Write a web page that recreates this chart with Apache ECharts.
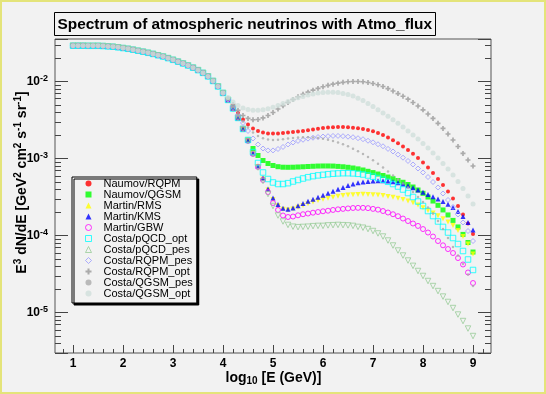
<!DOCTYPE html>
<html><head><meta charset="utf-8">
<script src="https://cdn.jsdelivr.net/npm/echarts@6/dist/echarts.min.js"></script>
<style>html,body{margin:0;padding:0;background:#f2f2f2}#c{width:546px;height:394px}</style>
</head><body><div id="c"></div>
<script>
// log10 of neutrino energy (GeV)
const logE = [1.0,1.1,1.2,1.3,1.4,1.5,1.6,1.7,1.8,1.9,
  2.0,2.1,2.2,2.3,2.4,2.5,2.6,2.7,2.8,2.9,
  3.0,3.1,3.2,3.3,3.4,3.5,3.6,3.7,3.8,3.9,
  4.0,4.1,4.2,4.3,4.4,4.5,4.6,4.7,4.8,4.9,
  5.0,5.1,5.2,5.3,5.4,5.5,5.6,5.7,5.8,5.9,
  6.0,6.1,6.2,6.3,6.4,6.5,6.6,6.7,6.8,6.9,
  7.0,7.1,7.2,7.3,7.4,7.5,7.6,7.7,7.8,7.9,
  8.0,8.1,8.2,8.3,8.4,8.5,8.6,8.7,8.8,8.9,9.0];

// shared low-energy (conventional) part, logE 1.0 .. 4.0
const lowE = [2.93e-2,2.93e-2,2.93e-2,2.92e-2,2.92e-2,2.92e-2,2.90e-2,2.87e-2,2.84e-2,2.79e-2,
  2.73e-2,2.67e-2,2.60e-2,2.52e-2,2.45e-2,2.37e-2,2.29e-2,2.20e-2,2.12e-2,2.02e-2,
  1.92e-2,1.82e-2,1.72e-2,1.62e-2,1.52e-2,1.41e-2,1.30e-2,1.17e-2,1.02e-2,8.66e-3,
  7.13e-3];

// logE 4.1 .. 9.0 per model
const naumovRQPM = lowE.concat([5.96e-3,4.83e-3,3.92e-3,3.23e-3,2.78e-3,2.47e-3,2.29e-3,2.19e-3,2.13e-3,2.12e-3,
  2.13e-3,2.16e-3,2.19e-3,2.22e-3,2.26e-3,2.29e-3,2.34e-3,2.39e-3,2.45e-3,2.50e-3,
  2.54e-3,2.56e-3,2.58e-3,2.58e-3,2.56e-3,2.53e-3,2.49e-3,2.43e-3,2.36e-3,2.27e-3,
  2.16e-3,2.03e-3,1.88e-3,1.73e-3,1.59e-3,1.44e-3,1.30e-3,1.157e-3,1.02e-3,8.93e-4,
  7.68e-4,6.52e-4,5.45e-4,4.56e-4,3.75e-4,3.04e-4,2.43e-4,1.885e-4,1.44e-4,1.05e-4]);
const naumovQGSM = lowE.concat([5.79e-3,4.48e-3,3.38e-3,2.43e-3,1.75e-3,1.355e-3,1.10e-3,9.48e-4,8.66e-4,8.16e-4,
  7.87e-4,7.75e-4,7.73e-4,7.75e-4,7.80e-4,7.85e-4,7.92e-4,7.97e-4,8.02e-4,8.04e-4,
  8.04e-4,8.02e-4,7.94e-4,7.85e-4,7.73e-4,7.57e-4,7.37e-4,7.13e-4,6.86e-4,6.60e-4,
  6.32e-4,6.05e-4,5.78e-4,5.50e-4,5.21e-4,4.94e-4,4.62e-4,4.29e-4,3.92e-4,3.55e-4,
  3.18e-4,2.82e-4,2.48e-4,2.16e-4,1.86e-4,1.58e-4,1.30e-4,1.04e-4,8.16e-5,6.14e-5]);
const martinRMS = lowE.concat([5.79e-3,4.48e-3,3.38e-3,2.43e-3,1.70e-3,1.167e-3,7.92e-4,5.45e-4,3.92e-4,2.95e-4,
  2.45e-4,2.20e-4,2.16e-4,2.23e-4,2.34e-4,2.47e-4,2.60e-4,2.74e-4,2.87e-4,2.98e-4,
  3.07e-4,3.16e-4,3.25e-4,3.32e-4,3.38e-4,3.41e-4,3.44e-4,3.45e-4,3.44e-4,3.41e-4,
  3.38e-4,3.32e-4,3.24e-4,3.15e-4,3.06e-4,2.95e-4,2.82e-4,2.68e-4,2.51e-4,2.30e-4,
  2.12e-4,1.97e-4,1.81e-4,1.66e-4,1.51e-4,1.36e-4,1.17e-4,9.76e-5,7.80e-5,5.78e-5]);
const martinKMS = lowE.concat([5.79e-3,4.48e-3,3.38e-3,2.43e-3,1.72e-3,1.185e-3,8.04e-4,5.61e-4,4.04e-4,3.09e-4,
  2.54e-4,2.27e-4,2.20e-4,2.29e-4,2.45e-4,2.62e-4,2.80e-4,2.98e-4,3.16e-4,3.35e-4,
  3.55e-4,3.77e-4,4.01e-4,4.24e-4,4.47e-4,4.69e-4,4.86e-4,4.98e-4,5.07e-4,5.13e-4,
  5.18e-4,5.18e-4,5.13e-4,5.03e-4,4.88e-4,4.69e-4,4.46e-4,4.20e-4,3.92e-4,3.66e-4,
  3.43e-4,3.21e-4,3.00e-4,2.78e-4,2.56e-4,2.32e-4,2.06e-4,1.78e-4,1.485e-4,1.19e-4]);
const martinGBW = lowE.concat([5.79e-3,4.48e-3,3.38e-3,2.43e-3,1.70e-3,1.15e-3,7.80e-4,5.29e-4,3.69e-4,2.66e-4,
  2.16e-4,1.83e-4,1.75e-4,1.775e-4,1.84e-4,1.90e-4,1.94e-4,1.99e-4,2.03e-4,2.075e-4,
  2.11e-4,2.16e-4,2.20e-4,2.23e-4,2.26e-4,2.29e-4,2.30e-4,2.30e-4,2.28e-4,2.23e-4,
  2.18e-4,2.09e-4,2.00e-4,1.90e-4,1.79e-4,1.67e-4,1.55e-4,1.44e-4,1.34e-4,1.22e-4,
  1.10e-4,9.76e-5,8.53e-5,7.50e-5,6.71e-5,5.96e-5,5.13e-5,4.23e-5,3.33e-5,2.43e-5]);
const costaPQCDopt = lowE.concat([5.79e-3,4.48e-3,3.38e-3,2.43e-3,1.75e-3,1.22e-3,8.79e-4,6.62e-4,5.45e-4,4.91e-4,
  4.69e-4,4.69e-4,4.81e-4,5.06e-4,5.29e-4,5.53e-4,5.75e-4,5.93e-4,6.07e-4,6.17e-4,
  6.29e-4,6.38e-4,6.44e-4,6.48e-4,6.48e-4,6.44e-4,6.36e-4,6.23e-4,6.05e-4,5.84e-4,
  5.61e-4,5.32e-4,5.01e-4,4.69e-4,4.35e-4,3.98e-4,3.58e-4,3.18e-4,2.78e-4,2.43e-4,
  2.09e-4,1.80e-4,1.53e-4,1.30e-4,1.10e-4,9.33e-5,7.80e-5,6.33e-5,4.91e-5,3.59e-5]);
const costaPQCDpes = lowE.concat([5.79e-3,4.48e-3,3.38e-3,2.43e-3,1.70e-3,1.15e-3,7.68e-4,5.13e-4,3.48e-4,2.43e-4,
  1.83e-4,1.53e-4,1.38e-4,1.31e-4,1.29e-4,1.30e-4,1.31e-4,1.33e-4,1.34e-4,1.34e-4,
  1.36e-4,1.37e-4,1.38e-4,1.37e-4,1.36e-4,1.34e-4,1.30e-4,1.27e-4,1.22e-4,1.15e-4,
  1.07e-4,9.76e-5,8.66e-5,7.46e-5,6.42e-5,5.53e-5,4.76e-5,4.06e-5,3.48e-5,3.00e-5,
  2.58e-5,2.22e-5,1.91e-5,1.62e-5,1.38e-5,1.15e-5,9.47e-6,7.80e-6,6.23e-6,4.98e-6]);
const costaRQPMpes = lowE.concat([5.87e-3,4.69e-3,3.70e-3,2.91e-3,2.29e-3,1.83e-3,1.53e-3,1.355e-3,1.28e-3,1.28e-3,
  1.336e-3,1.42e-3,1.53e-3,1.62e-3,1.70e-3,1.76e-3,1.82e-3,1.87e-3,1.91e-3,1.94e-3,
  1.96e-3,1.975e-3,1.975e-3,1.96e-3,1.93e-3,1.90e-3,1.845e-3,1.79e-3,1.71e-3,1.63e-3,
  1.54e-3,1.45e-3,1.34e-3,1.24e-3,1.13e-3,1.03e-3,9.34e-4,8.41e-4,7.45e-4,6.62e-4,
  5.78e-4,4.98e-4,4.23e-4,3.53e-4,2.91e-4,2.36e-4,1.885e-4,1.485e-4,1.15e-4,8.53e-5]);
const costaRQPMopt = lowE.concat([6.05e-3,5.06e-3,4.23e-3,3.64e-3,3.33e-3,3.20e-3,3.23e-3,3.38e-3,3.64e-3,3.98e-3,
  4.42e-3,4.875e-3,5.37e-3,5.87e-3,6.37e-3,6.86e-3,7.30e-3,7.75e-3,8.18e-3,8.59e-3,
  8.95e-3,9.28e-3,9.56e-3,9.80e-3,9.97e-3,1.006e-2,1.006e-2,9.97e-3,9.76e-3,9.47e-3,
  9.11e-3,8.66e-3,8.14e-3,7.57e-3,7.00e-3,6.46e-3,5.93e-3,5.37e-3,4.83e-3,4.31e-3,
  3.80e-3,3.33e-3,2.88e-3,2.47e-3,2.09e-3,1.75e-3,1.44e-3,1.17e-3,9.62e-4,8.04e-4]);
const costaQGSMpes = lowE.concat([5.87e-3,4.69e-3,3.75e-3,3.04e-3,2.54e-3,2.19e-3,1.97e-3,1.84e-3,1.77e-3,1.75e-3,
  1.76e-3,1.79e-3,1.83e-3,1.86e-3,1.88e-3,1.90e-3,1.90e-3,1.88e-3,1.86e-3,1.81e-3,
  1.76e-3,1.70e-3,1.62e-3,1.54e-3,1.45e-3,1.35e-3,1.25e-3,1.15e-3,1.05e-3,9.53e-4,
  8.58e-4,7.68e-4,6.82e-4,6.05e-4,5.37e-4,4.76e-4,4.23e-4,3.69e-4,3.18e-4,2.74e-4,
  2.32e-4,1.94e-4,1.55e-4,1.22e-4,9.33e-5,7.13e-5,5.53e-5,4.29e-5,3.13e-5,2.22e-5]);
const costaQGSMopt = lowE.concat([6.24e-3,5.45e-3,4.91e-3,4.55e-3,4.35e-3,4.26e-3,4.25e-3,4.31e-3,4.44e-3,4.65e-3,
  4.91e-3,5.21e-3,5.53e-3,5.85e-3,6.16e-3,6.44e-3,6.70e-3,6.92e-3,7.11e-3,7.24e-3,
  7.30e-3,7.30e-3,7.22e-3,7.04e-3,6.79e-3,6.49e-3,6.11e-3,5.68e-3,5.22e-3,4.76e-3,
  4.33e-3,3.92e-3,3.55e-3,3.21e-3,2.88e-3,2.58e-3,2.29e-3,2.03e-3,1.80e-3,1.575e-3,
  1.38e-3,1.185e-3,1.02e-3,8.66e-4,7.34e-4,6.14e-4,5.06e-4,4.10e-4,3.28e-4,2.58e-4]);

const seriesNames = ['Naumov/RQPM','Naumov/QGSM','Martin/RMS','Martin/KMS','Martin/GBW',
  'Costa/pQCD_opt','Costa/pQCD_pes','Costa/RQPM_pes','Costa/RQPM_opt','Costa/QGSM_pes','Costa/QGSM_opt'];
const seriesValues = [naumovRQPM,naumovQGSM,martinRMS,martinKMS,martinGBW,
  costaPQCDopt,costaPQCDpes,costaRQPMpes,costaRQPMopt,costaQGSMpes,costaQGSMopt];

const xTickLabels = [1,2,3,4,5,6,7,8,9];
const yDecadeExps = [-5,-4,-3,-2];

// ---- layout / style ----
const FONT = '"Liberation Sans", Arial, Helvetica, sans-serif';
const X_MIN = 0.64, X_MAX = 9.36;
const Y_MIN = 3.0e-6, Y_MAX = 3.58e-2;
const BG = '#f2f2f2';
const crossPath = 'path://M3,0H6V3H9V6H6V9H3V6H0V3H3Z';
const markerStyles = [
  {symbol:'circle', size:4, fill:'#ff0000'},
  {symbol:'rect', size:5, fill:'#00ff00'},
  {symbol:'triangle', rotate:180, size:5, fill:'#ffff00'},
  {symbol:'triangle', size:5, fill:'#0000ff'},
  {symbol:'circle', size:5, stroke:'#ff00ff'},
  {symbol:'rect', size:5.5, stroke:'#00ffff'},
  {symbol:'triangle', rotate:180, size:5.5, stroke:'#99cc99'},
  {symbol:'diamond', size:5, stroke:'#9999ff'},
  {symbol:crossPath, size:5, fill:'#999999'},
  {symbol:'circle', size:2.5, fill:'#aaaaaa'},
  {symbol:'circle', size:5, fill:'#cfdedb'}
];

const xMinorTicks = [];
for (let k = 4; k <= 46; k++) { const v = Math.round(k*2)/10; if (k % 5 !== 0) xMinorTicks.push(v); }
const yMinorLog = [];
for (let n = -6; n <= -2; n++) for (let m = 2; m <= 9; m++) {
  const l = Math.log10(m) + n;
  if (l > Math.log10(Y_MIN) && l < Math.log10(Y_MAX)) yMinorLog.push(l);
}

const series = seriesValues.map((vals, i) => {
  const st = markerStyles[i];
  const itemStyle = st.stroke
    ? {color:'rgba(0,0,0,0)', borderColor: st.stroke, borderWidth: 1}
    : {color: st.fill, borderWidth: 0};
  return {
    type:'scatter', name: seriesNames[i], xAxisIndex:0, yAxisIndex:0,
    data: vals.map((v, j) => [logE[j], v]),
    symbol: st.symbol, symbolSize: st.size, symbolRotate: st.rotate || 0,
    itemStyle, silent:true, animation:false
  };
});

const legendData = seriesNames.map((n, i) => {
  const st = markerStyles[i];
  return st.stroke
    ? {name:n, itemStyle:{color:'rgba(0,0,0,0)', borderColor:st.stroke, borderWidth:1}}
    : {name:n, itemStyle:{color:st.fill, borderWidth:0}};
});

const tickColor = '#444';
const chart = echarts.init(document.getElementById('c'), null, {renderer:'canvas'});
chart.setOption({
  backgroundColor: BG,
  animation: false,
  grid: {left:55, top:39, right:55, bottom:41, show:true, borderColor:'#555', borderWidth:1, backgroundColor:BG},
  xAxis: [
    {type:'value', min:X_MIN, max:X_MAX, position:'bottom',
     axisLine:{show:false, onZero:false},
     axisTick:{show:true, inside:true, length:8, customValues:xTickLabels, lineStyle:{color:tickColor}},
     axisLabel:{show:true, customValues:xTickLabels, margin:5, color:'#000', fontFamily:FONT, fontWeight:'bold', fontSize:12},
     splitLine:{show:false}},
    {type:'value', min:X_MIN, max:X_MAX, position:'bottom',
     axisLine:{show:false, onZero:false},
     axisTick:{show:true, inside:true, length:4, customValues:xMinorTicks, lineStyle:{color:tickColor}},
     axisLabel:{show:false}, splitLine:{show:false}}
  ],
  yAxis: [
    {type:'log', logBase:10, min:Y_MIN, max:Y_MAX, position:'left',
     axisLine:{show:false},
     axisTick:{show:true, inside:true, length:13, lineStyle:{color:tickColor}},
     axisLabel:{show:true, margin:7,
       formatter: v => { const e = Math.log10(v), r = Math.round(e);
         if (Math.abs(e - r) > 1e-6 || yDecadeExps.indexOf(r) < 0) return '';
         return '{b|10}{s|' + r + '}'; },
       rich:{b:{fontSize:12, fontWeight:'bold', color:'#000', fontFamily:FONT},
             s:{fontSize:9, fontWeight:'bold', color:'#000', fontFamily:FONT, padding:[0,0,7,0]}}},
     splitLine:{show:false}},
    {type:'value', min:Math.log10(Y_MIN), max:Math.log10(Y_MAX), position:'left',
     axisLine:{show:false},
     axisTick:{show:true, inside:true, length:6, customValues:yMinorLog, lineStyle:{color:tickColor}},
     axisLabel:{show:false}, splitLine:{show:false}},
    {type:'log', logBase:10, min:Y_MIN, max:Y_MAX, position:'right',
     axisLine:{show:false},
     axisTick:{show:true, inside:true, length:13, lineStyle:{color:tickColor}},
     axisLabel:{show:false}, splitLine:{show:false}},
    {type:'value', min:Math.log10(Y_MIN), max:Math.log10(Y_MAX), position:'right',
     axisLine:{show:false},
     axisTick:{show:true, inside:true, length:6, customValues:yMinorLog, lineStyle:{color:tickColor}},
     axisLabel:{show:false}, splitLine:{show:false}}
  ],
  legend: {
    orient:'vertical', left:72, top:177, itemWidth:6, itemHeight:6, itemGap:0,
    padding:[1,4,4,13], backgroundColor:BG, borderColor:'#000', borderWidth:1,
    shadowColor:'#000', shadowOffsetX:2, shadowOffsetY:2, shadowBlur:0.01,
    selectedMode:false,
    textStyle:{fontFamily:FONT, fontSize:11, color:'#000', lineHeight:10.67, padding:[0,0,0,7]},
    data: legendData
  },
  series: series,
  graphic: [
    {type:'rect', shape:{x:1, y:1, width:544, height:392}, style:{fill:'none', stroke:'#e4e47a', lineWidth:2}, silent:true},
    {type:'rect', shape:{x:54.5, y:12.5, width:381, height:23}, style:{fill:BG, stroke:'#000', lineWidth:1}, silent:true},
    {type:'text', x:57.5, y:24.5, silent:true,
     style:{text:'Spectrum of atmospheric neutrinos with Atmo_flux', fill:'#000',
            fontFamily:FONT, fontWeight:'bold', fontSize:15.4, align:'left', verticalAlign:'middle'}},
    {type:'text', x:22.5, y:182.5, rotation:Math.PI/2, silent:true,
     style:{text:'{m|E}{s|3}{m| dN/dE [GeV}{s|2}{m| cm}{s|2}{m| s}{s|-1}{m| sr}{s|-1}{m|]}',
            align:'center', verticalAlign:'middle', fill:'#000',
            rich:{m:{fontSize:14, fontWeight:'bold', fontFamily:FONT, fill:'#000'},
                  s:{fontSize:10, fontWeight:'bold', fontFamily:FONT, fill:'#000', padding:[0,0,8,0]}}}},
    {type:'text', x:273.5, y:378, silent:true,
     style:{text:'{m|log}{d|10}{m| [E (GeV)]}', align:'center', verticalAlign:'middle', fill:'#000',
            rich:{m:{fontSize:14, fontWeight:'bold', fontFamily:FONT, fill:'#000'},
                  d:{fontSize:10, fontWeight:'bold', fontFamily:FONT, fill:'#000', padding:[7,0,0,0]}}}}
  ]
});
</script></body></html>
